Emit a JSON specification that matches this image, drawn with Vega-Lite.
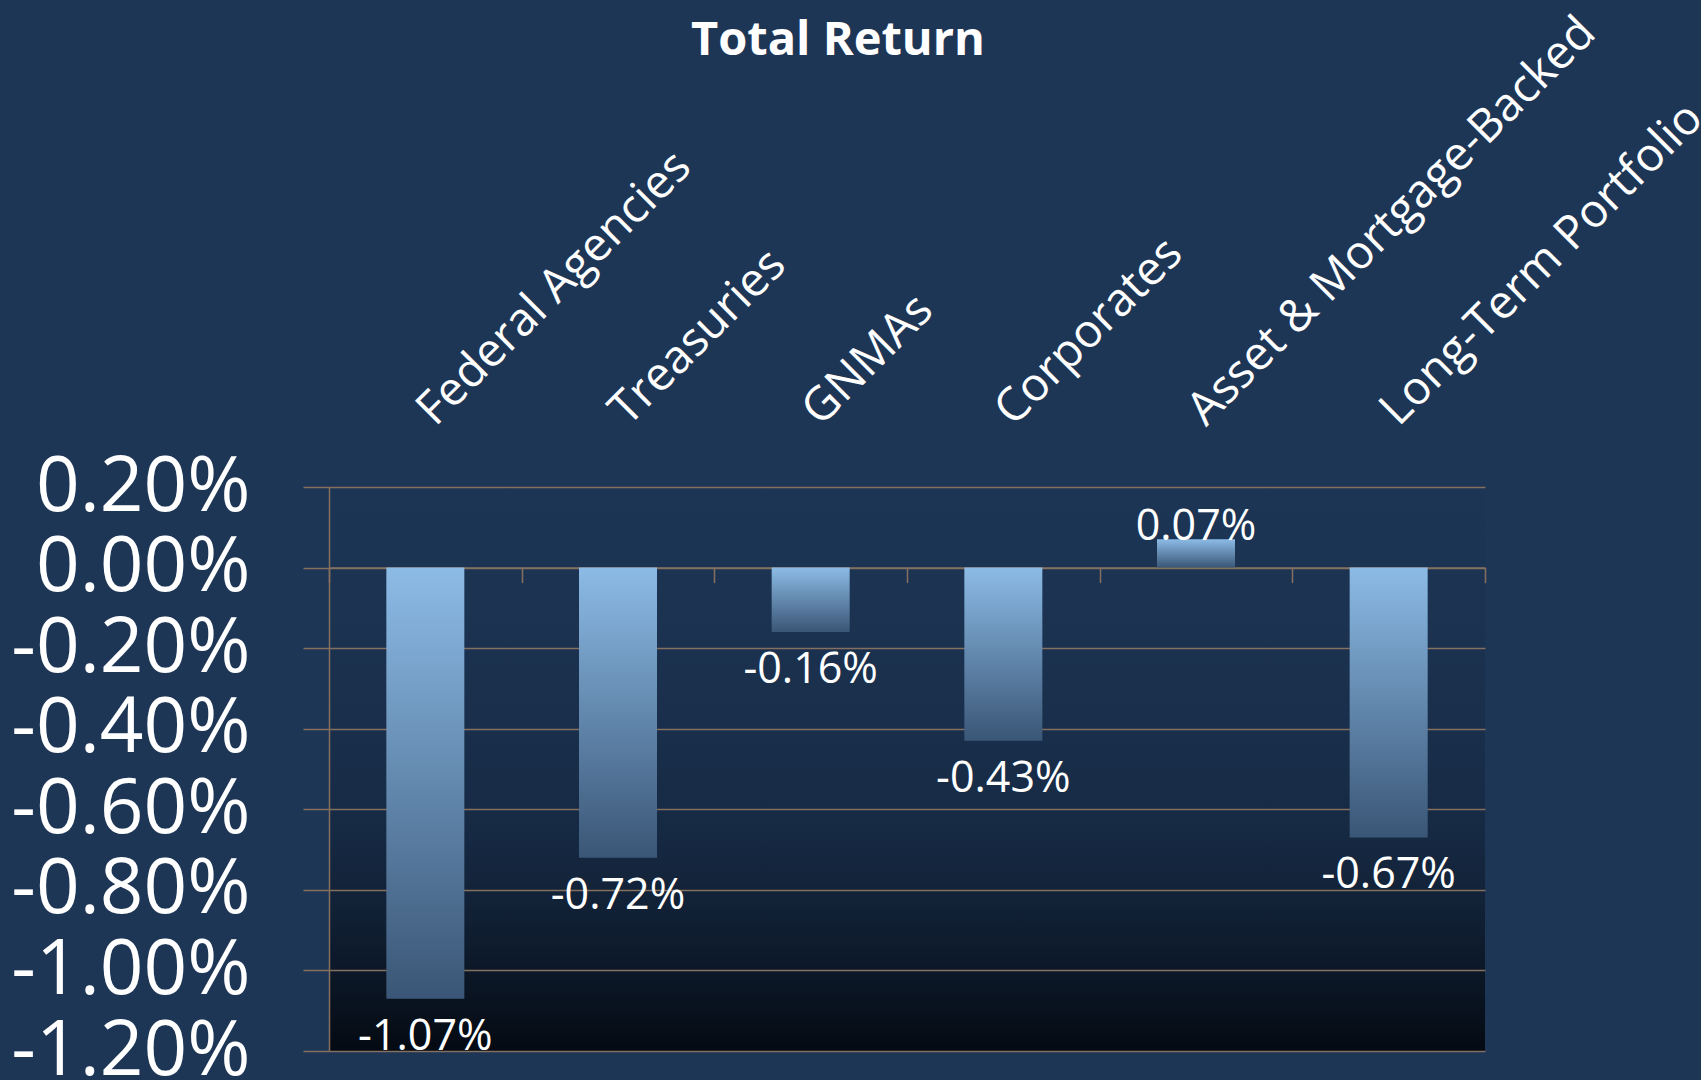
{
  "$schema": "https://vega.github.io/schema/vega-lite/v6.json",
  "autosize": {"type": "none"},
  "width": 1156,
  "height": 564,
  "padding": {"left": 329, "top": 487, "right": 216, "bottom": 29},
  "background": "#1e3656",
  "title": {
    "text": "Total Return",
    "font": "Open Sans",
    "fontSize": 47,
    "fontWeight": "bold",
    "color": "white",
    "anchor": "middle",
    "dx": -69,
    "offset": -56
  },
  "config": {
    "view": {
      "stroke": null,
      "fill": {
        "gradient": "linear",
        "x1": 0, "y1": 0, "x2": 0, "y2": 1,
        "stops": [
          {"offset": 0, "color": "rgba(25,50,80,0.2)"},
          {"offset": 0.6, "color": "rgba(15,30,50,0.5)"},
          {"offset": 1, "color": "#040a12"}
        ]
      }
    },
    "font": "Open Sans"
  },
  "data": {
    "values": [
      {"sector": "Federal Agencies", "ret": -0.0107},
      {"sector": "Treasuries", "ret": -0.0072},
      {"sector": "GNMAs", "ret": -0.0016},
      {"sector": "Corporates", "ret": -0.0043},
      {"sector": "Asset & Mortgage-Backed", "ret": 0.0007},
      {"sector": "Long-Term Portfolio", "ret": -0.0067}
    ]
  },
  "transform": [
    {"calculate": "replace(format(datum.ret, '.2%'), '\u2212', '-')", "as": "label"}
  ],
  "encoding": {
    "x": {
      "field": "sector",
      "type": "nominal",
      "sort": null,
      "scale": {"paddingInner": 0, "paddingOuter": 0}
    },
    "y": {
      "field": "ret",
      "type": "quantitative",
      "scale": {"domain": [-0.012, 0.002], "nice": false, "zero": false},
      "axis": {
        "title": null,
        "values": [0.002, 0, -0.002, -0.004, -0.006, -0.008, -0.010, -0.012],
        "labelExpr": "replace(format(datum.value, '.2%'), '\u2212', '-')",
        "labelFont": "Open Sans",
        "labelFontSize": 76.5,
        "labelColor": "white",
        "labelPadding": 53,
        "labelBaseline": "middle",
        "labelLimit": 0,
        "labelOverlap": false,
        "tickSize": 26,
        "tickColor": "#85705f",
        "tickWidth": 1.5,
        "domainColor": "#85705f",
        "domainWidth": 1.5,
        "grid": true,
        "gridColor": "#85705f",
        "gridWidth": 1.5,
        "gridOpacity": 1
      }
    }
  },
  "layer": [
    {
      "mark": {
        "type": "bar",
        "size": 78,
        "color": {
          "gradient": "linear",
          "x1": 0, "y1": 0, "x2": 0, "y2": 1,
          "stops": [
            {"offset": 0, "color": "#8cbbe6"},
            {"offset": 1, "color": "#3a5676"}
          ]
        }
      },
      "encoding": {
        "x": {
          "field": "sector",
          "type": "nominal",
          "sort": null,
          "axis": {
            "orient": "top",
            "title": null,
            "domain": false,
            "ticks": false,
            "labelAngle": -45,
            "labelAlign": "left",
            "labelBaseline": "middle",
            "labelPadding": 70,
            "labelFont": "Open Sans",
            "labelFontSize": 46.5,
            "labelColor": "white",
            "labelOverlap": false,
            "labelLimit": 0
          }
        }
      }
    },
    {
      "transform": [{"filter": "datum.ret < 0"}],
      "mark": {
        "type": "text",
        "font": "Open Sans",
        "fontSize": 43,
        "color": "white",
        "baseline": "middle",
        "align": "center",
        "dy": 38
      },
      "encoding": {
        "x": {
          "field": "sector",
          "type": "nominal",
          "sort": null,
          "axis": {
            "orient": "bottom",
            "offset": -483.4,
            "title": null,
            "labels": false,
            "domain": true,
            "domainColor": "#85705f",
            "domainWidth": 1.5,
            "ticks": true,
            "tickBand": "extent",
            "tickSize": 15,
            "tickColor": "#85705f",
            "tickWidth": 1.5,
            "grid": false
          }
        },
        "text": {"field": "label", "type": "nominal"}
      }
    },
    {
      "transform": [{"filter": "datum.ret >= 0"}],
      "mark": {
        "type": "text",
        "font": "Open Sans",
        "fontSize": 43,
        "color": "white",
        "baseline": "middle",
        "align": "center",
        "dy": -12
      },
      "encoding": {
        "x": {"field": "sector", "type": "nominal", "sort": null, "axis": null},
        "text": {"field": "label", "type": "nominal"}
      }
    }
  ],
  "resolve": {"axis": {"x": "independent"}}
}
